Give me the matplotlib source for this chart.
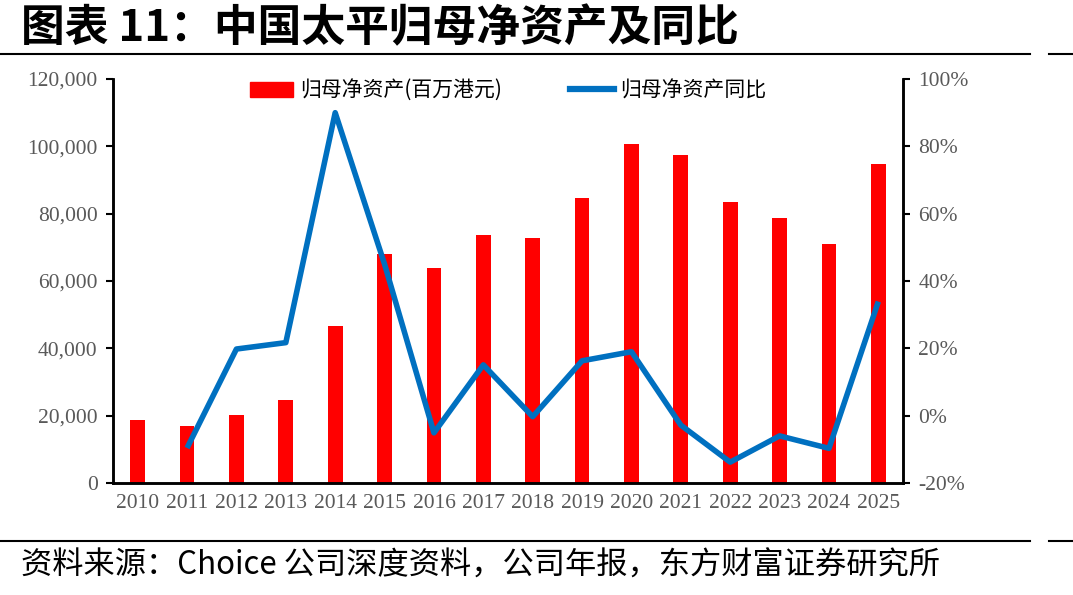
import matplotlib
matplotlib.use("Agg")
import matplotlib.pyplot as plt
import numpy as np
from matplotlib.ticker import FuncFormatter, MultipleLocator
from matplotlib.lines import Line2D

plt.rcParams['font.family'] = ['Noto Sans CJK SC', 'DejaVu Sans']

years = ["2010", "2011", "2012", "2013", "2014", "2015", "2016", "2017",
         "2018", "2019", "2020", "2021", "2022", "2023", "2024", "2025"]
net_assets = [18700, 17000, 20100, 24700, 46700, 68100, 64000, 73800,
              72700, 84600, 100600, 97500, 83500, 78600, 70900, 94700]
yoy_years = years[1:]
yoy = [-9.6, 19.8, 21.7, 90.0, 45.0, -5.1, 15.1, -0.3,
       16.3, 19.0, -2.8, -13.8, -6.0, -9.7, 33.9]

title = "图表 11：中国太平归母净资产及同比"
source = "资料来源：Choice 公司深度资料，公司年报，东方财富证券研究所"
bar_label = "归母净资产(百万港元)"
line_label = "归母净资产同比"

tick_color = "#595959"
serif = "Liberation Serif"

figure = plt.figure(figsize=(10.73, 5.95), dpi=100)
axes = figure.add_axes([0.1053, 0.1882, 0.7363, 0.679])
axes_right = axes.twinx()

x = np.arange(len(years))
axes.bar(x, net_assets, width=0.3, color="#FF0000", zorder=1)
x_yoy = np.arange(1, len(years))
axes_right.plot(x_yoy, yoy, color="#0070C0", linewidth=4, solid_capstyle="butt", zorder=3)

axes.set_xlim(-0.5, len(years) - 0.5)
axes.set_ylim(0, 120000)
axes_right.set_ylim(-20, 100)
axes.yaxis.set_major_locator(MultipleLocator(20000))
axes_right.yaxis.set_major_locator(MultipleLocator(20))
axes.yaxis.set_major_formatter(FuncFormatter(lambda v, p: f"{int(v):,}"))
axes_right.yaxis.set_major_formatter(FuncFormatter(lambda v, p: f"{int(v)}%"))

axes.set_xticks(x)
axes.set_xticklabels(years)
for label in axes.get_xticklabels() + axes.get_yticklabels() + axes_right.get_yticklabels():
    label.set_fontfamily(serif)
    label.set_fontsize(15.5)
    label.set_color(tick_color)

axes.tick_params(axis="x", length=0, pad=8)
axes.tick_params(axis="y", direction="out", length=5, width=1.5, pad=6)
axes_right.tick_params(axis="y", direction="out", length=5, width=1.5, pad=6)

for ax in (axes, axes_right):
    ax.spines["top"].set_visible(False)
    for side in ("left", "right", "bottom"):
        ax.spines[side].set_linewidth(1.8)
        ax.spines[side].set_color("black")

handles = [plt.Rectangle((0, 0), 1, 1, color="#FF0000"),
           Line2D([0], [0], color="#0070C0", linewidth=4.5)]
axes_right.legend(handles, [bar_label, line_label], loc="upper center",
                  bbox_to_anchor=(0.5, 1.045), ncol=2, frameon=False,
                  fontsize=15, handlelength=2.1, handleheight=0.7,
                  columnspacing=3.3, handletextpad=0.3)

figure.text(0.02, 0.952, title, fontsize=31.5, fontweight="bold", va="center", ha="left")
figure.add_artist(Line2D([0, 0.96], [0.909, 0.909], color="black", linewidth=1.5))
figure.add_artist(Line2D([0.978, 1.0], [0.909, 0.909], color="black", linewidth=1.5))
figure.add_artist(Line2D([0, 0.96], [0.091, 0.091], color="black", linewidth=1.5))
figure.add_artist(Line2D([0.978, 1.0], [0.091, 0.091], color="black", linewidth=1.5))
figure.text(0.02, 0.05, source, fontsize=22.5, va="center", ha="left")

figure.savefig("out.png", dpi=100)
